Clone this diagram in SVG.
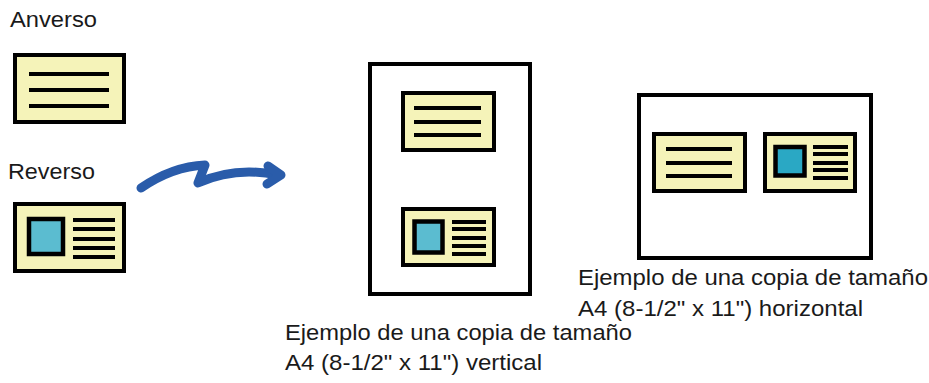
<svg xmlns="http://www.w3.org/2000/svg" width="929" height="383" viewBox="0 0 929 383">
<style>
.t{font-family:"Liberation Sans",Arial,sans-serif;font-size:22.5px;fill:#1a1a1a}
.card{fill:#f5f3b9;stroke:#000;stroke-width:4}
.page{fill:#fff;stroke:#000;stroke-width:4}
.ln{stroke:#000;stroke-width:4;fill:none}
.ph{fill:#5bbcd0;stroke:#000;stroke-width:4.5}
.ph2{fill:#2aa8c4;stroke:#000;stroke-width:4.5}
.arr{fill:none;stroke:#2a5caa;stroke-width:9;stroke-linecap:round;stroke-linejoin:round}
</style>
<g id="label-anverso"><text class="t" x="10" y="27" textLength="87" lengthAdjust="spacingAndGlyphs">Anverso</text></g>
<g id="card-front">
<rect class="card" x="15" y="55" width="109" height="67"/>
<path class="ln" d="M29 74H109M29 90H109M29 106H109"/>
</g>
<g id="label-reverso"><text class="t" x="8" y="179" textLength="87" lengthAdjust="spacingAndGlyphs">Reverso</text></g>
<g id="card-back">
<rect class="card" x="15" y="204" width="109" height="67"/>
<rect class="ph" x="29" y="219" width="34" height="35"/>
<path class="ln" d="M73 220H115M73 229H115M73 239H115M73 248H115M73 257H115"/>
</g>
<g id="connectors">
<path class="arr" d="M141 188C160 175 183 166 205 165L198 183C222 172 248 169 278 175"/>
<path class="arr" d="M268 166L281 175L267 184"/>
</g>
<g id="page-vertical">
<rect class="page" x="370" y="64" width="160" height="230"/>
<rect class="card" x="403" y="93" width="91" height="57"/>
<path class="ln" d="M414 108H481M414 122H481M414 135H481"/>
<rect class="card" x="403" y="209" width="91" height="56"/>
<rect class="ph" x="414.5" y="221.5" width="28" height="31"/>
<path class="ln" d="M452 222H486M452 229H486M452 238H486M452 246H486M452 254H486"/>
</g>
<g id="page-horizontal">
<rect class="page" x="639" y="95" width="232" height="163"/>
<rect class="card" x="654" y="134" width="91" height="57"/>
<path class="ln" d="M666 149H732M666 163H732M666 176H732"/>
<rect class="card" x="765" y="134" width="90" height="57"/>
<rect class="ph2" x="775.5" y="147" width="29" height="28.5"/>
<path class="ln" d="M813 147H848M813 154H848M813 163H848M813 170H848M813 178H848"/>
</g>
<g id="label-horizontal">
<text class="t" x="578" y="285" textLength="350" lengthAdjust="spacingAndGlyphs">Ejemplo de una copia de tamaño</text>
<text class="t" x="578" y="316" textLength="285" lengthAdjust="spacingAndGlyphs">A4 (8-1/2" x 11") horizontal</text>
</g>
<g id="label-vertical">
<text class="t" x="285" y="340" textLength="347" lengthAdjust="spacingAndGlyphs">Ejemplo de una copia de tamaño</text>
<text class="t" x="285" y="370" textLength="257" lengthAdjust="spacingAndGlyphs">A4 (8-1/2" x 11") vertical</text>
</g>
</svg>
